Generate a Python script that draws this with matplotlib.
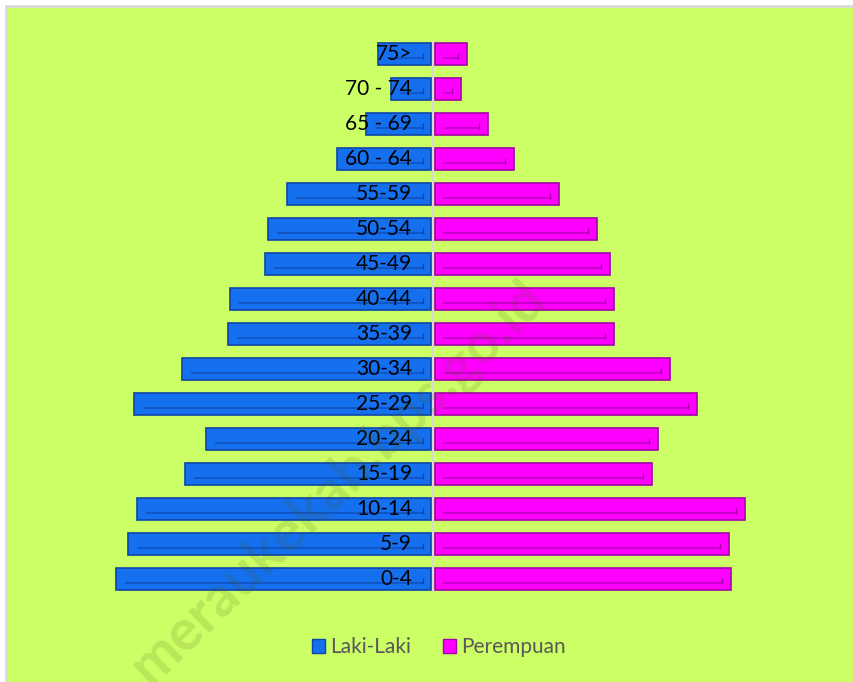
import numpy as np
import matplotlib
matplotlib.use('Agg')
import matplotlib.pyplot as plt
from matplotlib.patches import Rectangle

plt.rcParams['font.family'] = ['Lato', 'DejaVu Sans']

age_groups = ['0-4', '5-9', '10-14', '15-19', '20-24', '25-29', '30-34', '35-39',
              '40-44', '45-49', '50-54', '55-59', '60 - 64', '65 - 69', '70 - 74', '75>']
laki = [315, 303, 294, 246, 225, 297, 249, 203, 201, 166, 163, 144, 94, 65, 40, 53]
perempuan = [296, 294, 310, 217, 223, 262, 235, 179, 179, 175, 162, 124, 79, 53, 26, 32]

bg = '#ccff66'
blue = '#1570f0'
blue_dark = '#0d45a8'
pink = '#ff00ff'
pink_dark = '#a300a8'

fig = plt.figure(figsize=(8.54, 6.82), dpi=100)
fig.patch.set_facecolor('white')
# chart area background with grey top/left border
fig.patches.append(Rectangle((6 / 854, -0.5), 2, 1.5 - 6 / 682, transform=fig.transFigure,
                             facecolor=bg, edgecolor='#d9d9d9', linewidth=2, zorder=-5))

ax = fig.add_axes([100 / 854, 85.5 / 682, 680 / 854, 560 / 682])
ax.set_facecolor('none')

y = np.arange(len(age_groups))
m = np.array(laki)
f = np.array(perempuan)
gap = 1.8

ax.barh(y, -m, left=-gap, height=0.64, color=blue, edgecolor=blue_dark, linewidth=1.2, zorder=3)
ax.barh(y, f, left=gap, height=0.64, color=pink, edgecolor=pink_dark, linewidth=1.2, zorder=3)

# bevel-style inner lines
ax.hlines(y - 0.1, -gap - 8, -gap - m + 9, color=blue_dark, lw=1.2, alpha=0.7, zorder=4)
ax.hlines(y - 0.1, gap + 8, gap + f - 9, color=pink_dark, lw=1.2, alpha=0.7, zorder=4)
ax.plot(-gap - 8 * np.ones_like(y), y - 0.07, ls='none', marker='|', ms=4, color=blue_dark, zorder=4)
ax.plot(gap + f - 9, y - 0.07, ls='none', marker='|', ms=4, color=pink_dark, zorder=4)

ax.axvline(0, ymin=0.01, ymax=0.99, color='#d9d9d9', lw=1.5, zorder=2)

for yi, lab in zip(y, age_groups):
    ax.text(-21, yi, lab, ha='right', va='center', fontsize=15, color='black', zorder=6)

ax.set_xlim(-333, 347)
ax.set_ylim(-0.5, len(age_groups) - 0.5)
ax.axis('off')

# watermark
fig.text(338 / 854, 1 - 482 / 682, 'meraukekab.bps.go.id', rotation=44, ha='center', va='center',
         fontsize=41, fontweight='bold', color='#4a5a10', alpha=0.15, zorder=10)

handles = [Rectangle((0, 0), 1, 1, facecolor=blue, edgecolor=blue_dark),
           Rectangle((0, 0), 1, 1, facecolor=pink, edgecolor=pink_dark)]
fig.legend(handles, ['Laki-Laki', 'Perempuan'], loc='center', bbox_to_anchor=(439 / 854, 1 - 647 / 682),
           ncol=2, frameon=False, fontsize=15, labelcolor='#595959', handlelength=0.65, handleheight=0.65,
           handletextpad=0.25, columnspacing=1.5)

fig.savefig('out.png', dpi=100, facecolor=fig.get_facecolor())
